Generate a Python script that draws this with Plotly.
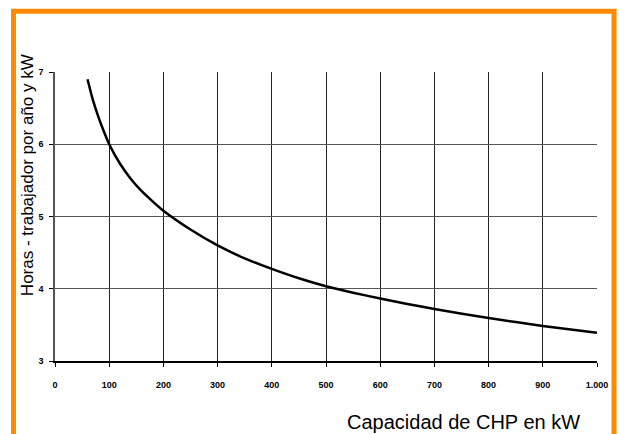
import plotly.graph_objects as go

# Capacity of the CHP plant (kW) and the matching labour hours per year and kW
capacidad_kw = [60, 70, 80, 90, 100, 120, 140, 160, 180, 200, 250, 300, 350,
                400, 450, 500, 550, 600, 650, 700, 800, 900, 1000]
horas_kw = [6.9, 6.61, 6.38, 6.18, 6.0, 5.73, 5.52, 5.35, 5.21, 5.08, 4.82, 4.60,
            4.42, 4.275, 4.145, 4.035, 3.945, 3.865, 3.79, 3.72, 3.595, 3.485, 3.39]

x_ticks = [0, 100, 200, 300, 400, 500, 600, 700, 800, 900, 1000]
x_tick_text = ["0", "100", "200", "300", "400", "500", "600", "700", "800", "900", "1.000"]
y_ticks = [3, 4, 5, 6, 7]

# plot area in pixels
L, R, T, B = 55, 597, 71.5, 361.5
W, H = 619, 434

def px_x(p):
    return (p - L) / (R - L)

def px_y(p):
    return (B - p) / (B - T)

fig = go.Figure()
fig.add_trace(go.Scatter(
    x=capacidad_kw, y=horas_kw, mode="lines",
    line=dict(color="black", width=2.5, shape="spline", smoothing=0.6),
    hoverinfo="skip", showlegend=False,
))

tick_font = dict(family="Liberation Sans, Arial, sans-serif", size=9, color="black", weight="bold")

fig.update_xaxes(
    range=[0, 1000], tickvals=x_ticks, ticktext=x_tick_text, tickfont=tick_font,
    ticks="outside", ticklen=4, tickcolor="black", ticklabelstandoff=10,
    showgrid=True, gridcolor="#222", gridwidth=1, zeroline=False,
    showline=True, linecolor="black", linewidth=1.5,
)
fig.update_yaxes(
    range=[3, 7], tickvals=y_ticks, tickfont=tick_font,
    ticks="outside", ticklen=4, tickcolor="black", ticklabelstandoff=4,
    showgrid=True, gridcolor="#555", gridwidth=1, zeroline=False,
    showline=True, linecolor="#555", linewidth=1.5,
)

fig.update_layout(
    width=W, height=H,
    margin=dict(l=L, r=W - R, t=T, b=H - B, pad=0),
    paper_bgcolor="white", plot_bgcolor="white",
    annotations=[
        dict(text="Horas - trabajador por año y kW", xref="paper", yref="paper",
             x=px_x(27), y=px_y(175), textangle=-90, showarrow=False,
             font=dict(family="Liberation Sans, Arial, sans-serif", size=17, color="black"),
             xanchor="center", yanchor="middle"),
        dict(text="Capacidad de CHP en kW", xref="paper", yref="paper",
             x=px_x(582), y=px_y(423), showarrow=False,
             font=dict(family="Liberation Sans, Arial, sans-serif", size=20, color="black"),
             xanchor="right", yanchor="middle"),
    ],
    shapes=[
        dict(type="rect", xref="paper", yref="paper",
             x0=px_x(13.5), x1=px_x(614), y0=px_y(445), y1=px_y(10.5),
             line=dict(color="#ff8a00", width=5), fillcolor="rgba(0,0,0,0)",
             layer="above"),
    ],
)

fig.write_html("out.html")
